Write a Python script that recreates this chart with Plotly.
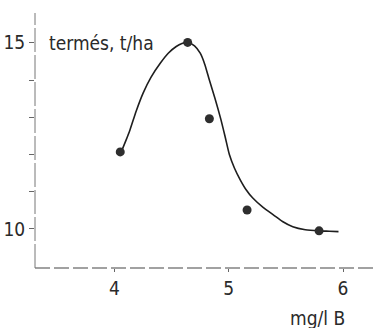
import plotly.graph_objects as go

# measured points
boron_mg_l = [4.05, 4.64, 4.83, 5.16, 5.79]
yield_t_ha = [12.07, 15.01, 12.96, 10.51, 9.95]

# fitted smooth curve
curve_x = [4.06, 4.10, 4.135, 4.19, 4.25, 4.32, 4.40, 4.47, 4.54, 4.59, 4.64, 4.70, 4.75, 4.79, 4.83, 4.88, 4.93, 4.97, 5.005, 5.05, 5.10, 5.15, 5.21, 5.30, 5.39, 5.47, 5.56, 5.67, 5.79, 5.88, 5.96]
curve_y = [12.08, 12.38, 12.66, 13.17, 13.65, 14.08, 14.45, 14.72, 14.90, 14.98, 15.01, 14.92, 14.72, 14.42, 14.0, 13.50, 12.95, 12.45, 12.0, 11.63, 11.32, 11.06, 10.83, 10.58, 10.38, 10.20, 10.06, 9.98, 9.95, 9.94, 9.93]

x_ticks = [4, 5, 6]
x_tick_labels = ["4", "5", "6"]
y_ticks = [10, 11, 12, 13, 14, 15]
y_tick_labels = ["10", "", "", "", "", "15"]

FONT = "Liberation Sans Narrow, DejaVu Sans Condensed, Arial Narrow, sans-serif"

fig = go.Figure()
fig.add_trace(go.Scatter(x=curve_x, y=curve_y, mode="lines",
                         line=dict(color="#1e1e1e", width=1.6, shape="spline", smoothing=0.6),
                         hoverinfo="skip", showlegend=False))
fig.add_trace(go.Scatter(x=boron_mg_l, y=yield_t_ha, mode="markers",
                         marker=dict(color="#2e2e2e", size=9), showlegend=False))

fig.update_layout(
    width=373, height=328,
    margin=dict(l=35, r=0, t=13, b=60, autoexpand=False),
    paper_bgcolor="white", plot_bgcolor="white",
    font=dict(family=FONT, size=19, color="#2a2a2a"),
    xaxis=dict(range=[3.304, 6.262], tickvals=x_ticks, ticktext=x_tick_labels, automargin=False,
               showgrid=False, zeroline=False, showline=False,
               ticks="outside", ticklen=3, tickcolor="#666", tickfont=dict(size=19)),
    yaxis=dict(range=[8.952, 15.80], tickvals=y_ticks, ticktext=y_tick_labels, automargin=False,
               showgrid=False, zeroline=False, showline=False,
               ticks="outside", ticklen=5, tickcolor="#666", tickfont=dict(size=19)),
    shapes=[
        dict(type="line", xref="paper", yref="paper", x0=0, x1=1, y0=0, y1=0,
             line=dict(color="#444", width=1.2, dash="15px,4px")),
        dict(type="line", xref="paper", yref="paper", x0=0, x1=0, y0=0, y1=1,
             line=dict(color="#777", width=1, dash="24px,3px")),
    ],
    annotations=[
        dict(text="termés, t/ha", xref="paper", yref="paper", x=0.035, y=0.882,
             xanchor="left", yanchor="middle", showarrow=False, font=dict(size=19)),
        dict(text="mg/l B", xref="paper", yref="paper", x=0.837, y=-0.196,
             xanchor="center", yanchor="middle", showarrow=False, font=dict(size=19)),
    ],
)

fig.write_html("out.html", config={"displayModeBar": False},
               post_script="document.body.style.margin='0';document.body.style.padding='0';")
